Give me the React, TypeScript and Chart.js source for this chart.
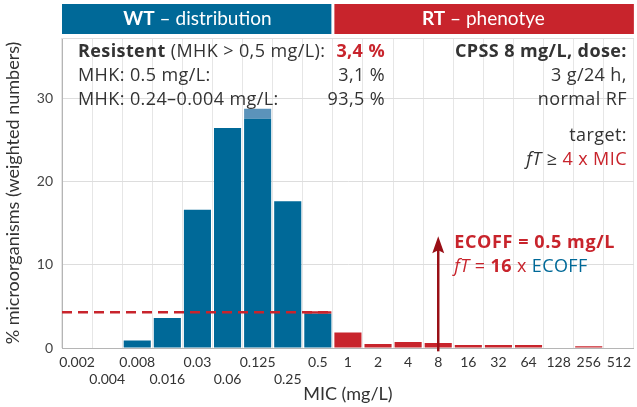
import React, { useEffect, useRef } from 'react';
import { Chart, registerables } from 'chart.js';

Chart.register(...registerables);

const micLabels = ['0.002', '0.004', '0.008', '0.016', '0.03', '0.06', '0.125', '0.25', '0.5', '1', '2', '4', '8', '16', '32', '64', '128', '256', '512'];
const wtValues = [0, 0, 0.9, 3.6, 16.6, 26.4, 27.5, 17.6, 4.1, 0, 0, 0, 0, 0, 0, 0, 0, 0, 0];
const wtUpperValues = [0, 0, 0, 0, 0, 0, 1.2, 0, 0, 0, 0, 0, 0, 0, 0, 0, 0, 0, 0];
const rtValues = [0, 0, 0, 0, 0, 0, 0, 0, 0.3, 1.85, 0.48, 0.72, 0.6, 0.36, 0.36, 0.36, 0, 0.2, 0];
const yTickValues = [0, 10, 20, 30];
const yMax = 37.2;
const ecoffDashLevel = 4.3;
const wtCategoryCount = 9;
const arrowCategoryIndex = 12;
const arrowFromValue = -0.4;
const arrowToValue = 13.4;

const BLUE = '#006998';
const LIGHT_BLUE = '#5b93ba';
const RED = '#c8242c';
const DARK_RED = '#990f16';
const TEXT = '#333333';
const FONT = 'Lato, "Open Sans", sans-serif';
const NOTE_FONT = '"Open Sans", Lato, sans-serif';

type Run = { text: string; bold?: boolean; italic?: boolean; color?: string };

function drawRuns(ctx: any, runs: Run[], x: number, y: number, align: 'left' | 'right' | 'center', size: number, family: string = NOTE_FONT, spacing: number = 0.4) {
  const fontFor = (r: Run) => `${r.italic ? 'italic ' : ''}${r.bold ? 'bold ' : ''}${size}px ${family}`;
  ctx.letterSpacing = `${spacing}px`;
  let total = 0;
  const widths = runs.map((r) => {
    ctx.font = fontFor(r);
    const w = ctx.measureText(r.text).width;
    total += w;
    return w;
  });
  let cx = align === 'left' ? x : align === 'right' ? x - total : x - total / 2;
  ctx.textBaseline = 'middle';
  ctx.textAlign = 'left';
  runs.forEach((r, i) => {
    ctx.font = fontFor(r);
    ctx.fillStyle = r.color || TEXT;
    ctx.fillText(r.text, cx, y);
    cx += widths[i];
  });
  ctx.letterSpacing = '0px';
}

const overlayPlugin = {
  id: 'overlay',
  afterDatasetsDraw(chart: any) {
    const { ctx, chartArea, scales } = chart;
    const x = scales.x;
    const y = scales.y;
    ctx.save();
    // top border of plot box
    ctx.strokeStyle = '#dddddd';
    ctx.lineWidth = 1;
    ctx.beginPath();
    ctx.moveTo(chartArea.left, chartArea.top + 0.5);
    ctx.lineTo(chartArea.right, chartArea.top + 0.5);
    ctx.stroke();

    // dashed ECOFF level line
    const dy = y.getPixelForValue(ecoffDashLevel);
    ctx.strokeStyle = RED;
    ctx.lineWidth = 2.5;
    ctx.setLineDash([10, 6]);
    ctx.beginPath();
    ctx.moveTo(x.getPixelForValue(-0.5), dy);
    ctx.lineTo(x.getPixelForValue(wtCategoryCount - 0.5), dy);
    ctx.stroke();
    ctx.setLineDash([]);

    // arrow
    const ax = x.getPixelForValue(arrowCategoryIndex);
    const yBottom = y.getPixelForValue(arrowFromValue);
    const yTip = y.getPixelForValue(arrowToValue);
    ctx.strokeStyle = DARK_RED;
    ctx.fillStyle = DARK_RED;
    ctx.lineWidth = 2.5;
    ctx.beginPath();
    ctx.moveTo(ax, yBottom);
    ctx.lineTo(ax, yTip + 12);
    ctx.stroke();
    ctx.beginPath();
    ctx.moveTo(ax, yTip);
    ctx.lineTo(ax - 6, yTip + 17);
    ctx.lineTo(ax, yTip + 14);
    ctx.lineTo(ax + 6, yTip + 17);
    ctx.closePath();
    ctx.fill();

    // ECOFF text
    const ex = ax + 16;
    drawRuns(ctx, [{ text: 'ECOFF = 0.5 mg/L', bold: true, color: RED }], ex, yTip + 7, 'left', 18, NOTE_FONT, 0.6);
    drawRuns(ctx, [
      { text: 'fT', italic: true, color: RED },
      { text: ' = ', color: RED },
      { text: '16', bold: true, color: RED },
      { text: ' x ', color: RED },
      { text: 'ECOFF', color: BLUE },
    ], ex, yTip + 31, 'left', 18, NOTE_FONT, 0.4);

    // left text block
    const lx = chartArea.left + 16;
    const rx = chartArea.left + 323;
    const l1 = chartArea.top + 14;
    const l2 = chartArea.top + 38;
    const l3 = chartArea.top + 62;
    drawRuns(ctx, [{ text: 'Resistent', bold: true }, { text: ' (MHK > 0,5 mg/L):' }], lx, l1, 'left', 18);
    drawRuns(ctx, [{ text: '3,4 %', bold: true, color: RED }], rx, l1, 'right', 18);
    drawRuns(ctx, [{ text: 'MHK: 0.5 mg/L:' }], lx, l2, 'left', 18);
    drawRuns(ctx, [{ text: '3,1 %' }], rx, l2, 'right', 18);
    drawRuns(ctx, [{ text: 'MHK: 0.24\u20130.004 mg/L:' }], lx, l3, 'left', 18);
    drawRuns(ctx, [{ text: '93,5 %' }], rx, l3, 'right', 18);

    // right text block
    const rr = chartArea.right - 7;
    drawRuns(ctx, [{ text: 'CPSS 8 mg/L, dose:', bold: true }], rr, l1, 'right', 18);
    drawRuns(ctx, [{ text: '3 g/24 h,' }], rr, l2, 'right', 18);
    drawRuns(ctx, [{ text: 'normal RF' }], rr, l3, 'right', 18);
    drawRuns(ctx, [{ text: 'target:' }], rr, chartArea.top + 98, 'right', 18);
    drawRuns(ctx, [
      { text: 'fT', italic: true },
      { text: ' \u2265 ' },
      { text: '4 x MIC', color: RED },
    ], rr, chartArea.top + 122, 'right', 18);

    // header bars
    const hTop = 4;
    const hBottom = chartArea.top - 4;
    const splitX = x.getPixelForValue(wtCategoryCount - 0.5);
    const leftX = x.getPixelForValue(-0.5);
    const rightX = x.getPixelForValue(micLabels.length - 0.5);
    ctx.fillStyle = BLUE;
    ctx.fillRect(leftX, hTop, splitX - 1.5 - leftX, hBottom - hTop);
    ctx.fillStyle = RED;
    ctx.fillRect(splitX + 1.5, hTop, rightX - splitX - 1.5, hBottom - hTop);
    const hMid = (hTop + hBottom) / 2;
    drawRuns(ctx, [{ text: 'WT', bold: true, color: '#ffffff' }, { text: ' \u2013 distribution', color: '#ffffff' }], (leftX + splitX) / 2, hMid, 'center', 19, FONT, 0);
    drawRuns(ctx, [{ text: 'RT', bold: true, color: '#ffffff' }, { text: ' \u2013 phenotye', color: '#ffffff' }], (splitX + rightX) / 2, hMid, 'center', 19, FONT, 0);
    ctx.restore();
  },
};

export default function App() {
  const canvasRef = useRef<HTMLCanvasElement | null>(null);

  useEffect(() => {
    document.body.style.margin = '0';
    const canvas = canvasRef.current;
    if (!canvas) return;
    const chart = new Chart(canvas, {
      type: 'bar',
      data: {
        labels: micLabels,
        datasets: [
          { label: 'WT', data: wtValues, backgroundColor: BLUE, barPercentage: 0.9, categoryPercentage: 1 },
          { label: 'WT upper', data: wtUpperValues, backgroundColor: LIGHT_BLUE, barPercentage: 0.9, categoryPercentage: 1 },
          { label: 'RT', data: rtValues, backgroundColor: RED, barPercentage: 0.9, categoryPercentage: 1 },
        ],
      },
      options: {
        responsive: false,
        animation: false,
        devicePixelRatio: 1,
        layout: { padding: { top: 38, left: 0, right: 0, bottom: 0 } },
        plugins: { legend: { display: false }, tooltip: { enabled: false } },
        scales: {
          x: {
            stacked: true,
            offset: true,
            grid: { color: '#e6e6e6', offset: true, drawTicks: false },
            border: { color: '#b5b5b5' },
            ticks: {
              autoSkip: false,
              maxRotation: 0,
              minRotation: 0,
              padding: 6,
              color: TEXT,
              font: { family: FONT, size: 14 },
              callback: (_v: any, i: number) => (i < wtCategoryCount && i % 2 === 1 ? ['', micLabels[i]] : micLabels[i]),
            },
            title: { display: true, text: 'MIC (mg/L)', color: TEXT, font: { family: FONT, size: 18 }, padding: { top: 2, bottom: 2 } },
            afterFit: (s: any) => { s.height = 59; },
          },
          y: {
            stacked: true,
            min: 0,
            max: yMax,
            grid: { color: '#dddddd', drawTicks: false },
            border: { color: '#b5b5b5' },
            ticks: { padding: 9, color: '#444444', font: { family: FONT, size: 14 } },
            afterBuildTicks: (s: any) => { s.ticks = yTickValues.map((v) => ({ value: v })); },
            title: { display: true, text: '% microorganisms (weighted numbers)', color: TEXT, font: { family: FONT, size: 18 }, padding: { top: 2, bottom: 2 } },
            afterFit: (s: any) => { s.width = 62; },
          },
        },
      },
      plugins: [overlayPlugin],
    });
    return () => chart.destroy();
  }, []);

  return (
    <div style={{ width: 637, height: 407 }}>
      <canvas ref={canvasRef} width={637} height={407} style={{ width: 637, height: 407, display: 'block' }} />
    </div>
  );
}
